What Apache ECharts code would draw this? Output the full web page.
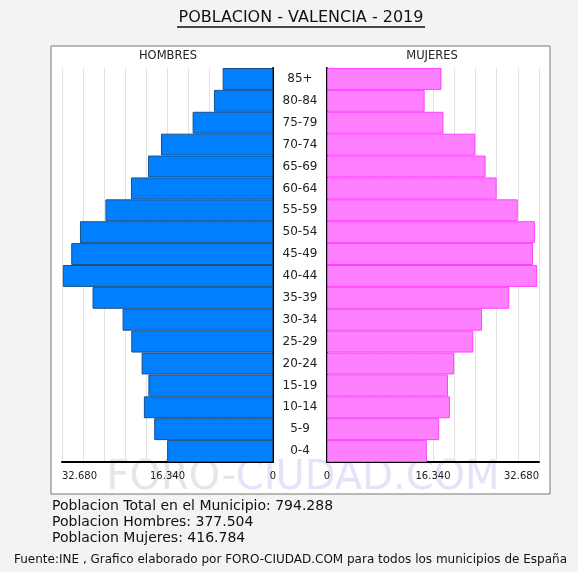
<!DOCTYPE html>
<html>
<head>
<meta charset="utf-8">
<title>Poblacion Valencia 2019</title>
<script src="https://cdn.jsdelivr.net/npm/echarts@6/dist/echarts.min.js"></script>
<style>
  html, body { margin: 0; padding: 0; background: #f3f3f3; }
  #chart { width: 578px; height: 572px; }
</style>
</head>
<body>
<div id="chart"></div>
<script>
// age groups, bottom to top
const ageGroups = ['0-4', '5-9', '10-14', '15-19', '20-24', '25-29', '30-34', '35-39', '40-44',
  '45-49', '50-54', '55-59', '60-64', '65-69', '70-74', '75-79', '80-84', '85+'];
const hombres = [16400, 18400, 20000, 19300, 20350, 21950, 23300, 27950, 32550,
  31250, 29900, 25950, 22000, 19350, 17350, 12450, 9150, 7800];
const mujeres = [15400, 17300, 18950, 18650, 19600, 22550, 23900, 28100, 32400,
  31750, 32050, 29400, 26150, 24450, 22850, 17950, 15050, 17650];
const axisMax = 32680;
const axisStep = 3268;
const tickLabels = [0, 16340, 32680];

const fmt = v => String(v).replace(/\B(?=(\d{3})+(?!\d))/g, '.');
const font = 'Verdana, "DejaVu Sans", sans-serif';

const chart = echarts.init(document.getElementById('chart'));

const xAxisBase = {
  type: 'value',
  min: 0,
  max: axisMax,
  interval: axisStep,
  axisLine: { show: true, lineStyle: { color: '#000', width: 2 } },
  axisTick: { show: false },
  splitLine: { show: true, lineStyle: { color: '#e2e2e2', width: 1 } },
  axisLabel: {
    color: '#222',
    fontSize: 10,
    fontFamily: font,
    margin: 9,
    showMaxLabel: true,
    showMinLabel: true,
    formatter: v => tickLabels.includes(v) ? fmt(v) : ''
  }
};

const option = {
  backgroundColor: '#f3f3f3',
  animation: false,
  graphic: [
    { type: 'rect', shape: { x: 51, y: 46, width: 499, height: 448 },
      style: { fill: '#fff', stroke: '#777', lineWidth: 1 }, z: -10 },
    { type: 'text', x: 301, y: 18, z: 10,
      style: { text: 'POBLACION - VALENCIA - 2019', fill: '#111', font: '16px ' + font,
        align: 'center', verticalAlign: 'middle' } },
    { type: 'line', shape: { x1: 177, y1: 27, x2: 425, y2: 27 }, z: 10,
      style: { stroke: '#111', lineWidth: 1.5 } },
    { type: 'text', x: 168, y: 56, z: 10,
      style: { text: 'HOMBRES', fill: '#222', font: '11.5px ' + font, align: 'center', verticalAlign: 'middle' } },
    { type: 'text', x: 432, y: 56, z: 10,
      style: { text: 'MUJERES', fill: '#222', font: '11.5px ' + font, align: 'center', verticalAlign: 'middle' } },
    // watermark
    { type: 'text', x: 303, y: 479, z: -5,
      style: { text: '{a|FORO-}{b|CIUDAD.COM}', align: 'center', verticalAlign: 'middle',
        rich: {
          a: { fill: '#e6e6e6', font: '40px ' + font },
          b: { fill: '#e3e3f9', font: '40px ' + font }
        } } },
    { type: 'text', x: 52, y: 506, z: 10,
      style: { text: 'Poblacion Total en el Municipio: 794.288', fill: '#111', font: '14px ' + font, verticalAlign: 'middle' } },
    { type: 'text', x: 52, y: 522, z: 10,
      style: { text: 'Poblacion Hombres: 377.504', fill: '#111', font: '14px ' + font, verticalAlign: 'middle' } },
    { type: 'text', x: 52, y: 538, z: 10,
      style: { text: 'Poblacion Mujeres: 416.784', fill: '#111', font: '14px ' + font, verticalAlign: 'middle' } },
    { type: 'text', x: 14, y: 560, z: 10,
      style: { text: 'Fuente:INE , Grafico elaborado por FORO-CIUDAD.COM para todos los municipios de España',
        fill: '#111', font: '12px ' + font, verticalAlign: 'middle' } }
  ],
  grid: [
    { left: 62, right: 305, top: 68, bottom: 110 },
    { left: 327, right: 39, top: 68, bottom: 110 }
  ],
  xAxis: [
    Object.assign({}, xAxisBase, { gridIndex: 0, inverse: true,
      axisLabel: Object.assign({}, xAxisBase.axisLabel, { alignMaxLabel: 'left' }) }),
    Object.assign({}, xAxisBase, { gridIndex: 1,
      axisLabel: Object.assign({}, xAxisBase.axisLabel, { alignMaxLabel: 'right' }) })
  ],
  yAxis: [
    {
      type: 'category', gridIndex: 0, position: 'right', data: ageGroups,
      axisLine: { show: true, lineStyle: { color: '#000', width: 2 } },
      axisTick: { show: false },
      splitLine: { show: false },
      axisLabel: { color: '#222', fontSize: 12, fontFamily: font, align: 'center', margin: 27 }
    },
    {
      type: 'category', gridIndex: 1, position: 'left', data: ageGroups,
      axisLine: { show: true, lineStyle: { color: '#000', width: 2 } },
      axisTick: { show: false },
      splitLine: { show: false },
      axisLabel: { show: false }
    }
  ],
  series: [
    {
      name: 'Hombres', type: 'bar', xAxisIndex: 0, yAxisIndex: 0,
      data: hombres, barCategoryGap: '0%',
      itemStyle: { color: '#0080ff', borderColor: '#1d4f86', borderWidth: 1 }
    },
    {
      name: 'Mujeres', type: 'bar', xAxisIndex: 1, yAxisIndex: 1,
      data: mujeres, barCategoryGap: '0%',
      itemStyle: { color: '#ff80ff', borderColor: '#ff40ff', borderWidth: 1 }
    }
  ]
};

chart.setOption(option);
</script>
</body>
</html>
